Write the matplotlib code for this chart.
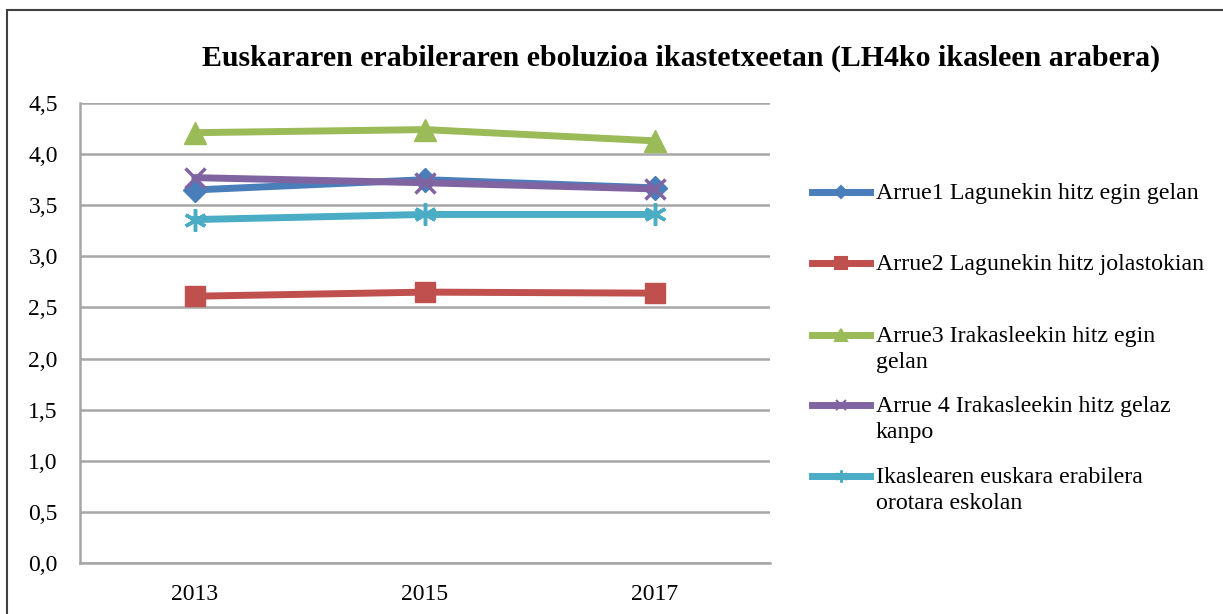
import matplotlib.pyplot as plt
from matplotlib.lines import Line2D
from matplotlib.patches import Rectangle

# data
years = ["2013", "2015", "2017"]
arrue1 = [3.65, 3.75, 3.67]
arrue2 = [2.61, 2.65, 2.64]
arrue3 = [4.21, 4.24, 4.13]
arrue4 = [3.77, 3.72, 3.66]
orotara = [3.36, 3.41, 3.41]

labels = [
    "Arrue1 Lagunekin hitz egin gelan",
    "Arrue2 Lagunekin hitz jolastokian",
    "Arrue3 Irakasleekin hitz egin\ngelan",
    "Arrue 4 Irakasleekin hitz gelaz\nkanpo",
    "Ikaslearen euskara erabilera\norotara eskolan",
]
yticks = [0.0, 0.5, 1.0, 1.5, 2.0, 2.5, 3.0, 3.5, 4.0, 4.5]

plt.rcParams["font.family"] = ["Liberation Serif", "DejaVu Serif"]

# office 2007 palette
styles = [
    (arrue1, "#4A7EBB", "D", 12),
    (arrue2, "#C0504D", "s", 15),
    (arrue3, "#9BBB59", "^", 16),
    (arrue4, "#8064A2", "x", 14),
    (orotara, "#4BACC6", (6, 2, 0), 16),
]

fig = plt.figure(figsize=(12.23, 6.14), dpi=100)
ax = fig.add_axes([0.0654, 0.0831, 0.5642, 0.7491])

x = range(len(years))
for vals, col, mk, ms in styles:
    ax.plot(x, vals, color=col, linewidth=5, marker=mk, markersize=ms,
            markeredgecolor=col, markeredgewidth=2.5 if mk in ("x", (6, 2, 0)) else 1,
            solid_joinstyle="round", zorder=3)

ax.set_xlim(-0.5, 2.5)
ax.set_ylim(0, 4.5)
ax.set_xticks(list(x))
ax.set_xticklabels(years)
ax.set_yticks(yticks)
ax.set_yticklabels([f"{v:.1f}".replace(".", ",") for v in yticks])
ax.tick_params(length=0, labelsize=17, colors="black")
ax.tick_params(axis="x", pad=15)
ax.tick_params(axis="y", pad=16)
ax.yaxis.grid(True, color="#A6A6A6", linewidth=1.8)
ax.set_axisbelow(True)
for s in ("top", "right"):
    ax.spines[s].set_visible(False)
for s in ("left", "bottom"):
    ax.spines[s].set_color("#A6A6A6")
    ax.spines[s].set_linewidth(1.8)

fig.text(681 / 1223, 1 - 58 / 614,
         "Euskararen erabileraren eboluzioa ikastetxeetan (LH4ko ikasleen arabera)",
         ha="center", va="center", fontsize=21.5, fontweight="bold")

# chart frame (cut off on the right and bottom)
fig.patches.append(Rectangle((7 / 1223, -0.05), 1.2, 1 - 10 / 614 + 0.05,
                             transform=fig.transFigure, fill=False,
                             edgecolor="#404040", linewidth=1.5))

# legend drawn by hand: Excel puts the key next to the first line
entry_y = [192, 263, 335, 405, 476]
for (vals, col, mk, ms), lab, yy in zip(styles, labels, entry_y):
    fy = 1 - yy / 614
    fig.lines.append(Line2D([812 / 1223, 870 / 1223], [fy, fy], transform=fig.transFigure,
                            color=col, linewidth=5))
    fig.lines.append(Line2D([841 / 1223], [fy], transform=fig.transFigure, color=col,
                            marker=mk, markersize=ms * 0.55, markeredgecolor=col,
                            markeredgewidth=1.5))
    fig.text(876 / 1223, fy + 9 / 614, lab, ha="left", va="top", fontsize=17.2,
             linespacing=1.32)

fig.savefig("out.png", dpi=100)
